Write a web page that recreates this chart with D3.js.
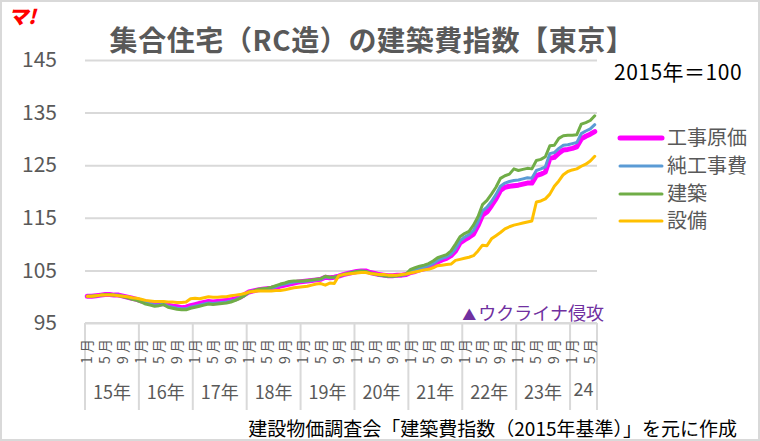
<!DOCTYPE html>
<html>
<head>
<meta charset="utf-8">
<script src="https://cdn.jsdelivr.net/npm/d3@7"></script>
<style>
  body { margin: 0; background: #fff; }
  svg { display: block; }
  text { font-family: "Noto Sans CJK JP", "Noto Sans", sans-serif; }
</style>
</head>
<body>
<div id="chart"></div>
<script>
// categories
const yearLabels = ["15年", "16年", "17年", "18年", "19年", "20年", "21年", "22年", "23年", "24"];
const monthsInYear = [12, 12, 12, 12, 12, 12, 12, 12, 12, 6];
const monthTickLabels = { 1: "1月", 5: "5月", 9: "9月" };
const yTicks = [95, 105, 115, 125, 135, 145];

const seriesNames = ["工事原価", "純工事費", "建築", "設備"];
const seriesColors = ["#ff00ff", "#5b9bd5", "#70ad47", "#ffc000"];
const seriesWidths = [5, 3, 3, 3];

// monthly index values, Jan 2015 - Jun 2024
const kouji = [
  100.1, 100.1, 100.2, 100.3, 100.4, 100.4, 100.3, 100.3, 100.1, 99.9, 99.7, 99.5,
  99.2, 99.0, 98.8, 98.7, 98.6, 98.7, 98.4, 98.2, 98.1, 97.9, 98.0, 98.3,
  98.5, 98.7, 98.9, 99.1, 99.0, 99.1, 99.2, 99.3, 99.4, 99.6, 99.9, 100.4,
  100.9, 101.1, 101.3, 101.4, 101.5, 101.6, 101.8, 102.0, 102.2, 102.4, 102.6, 102.8,
  102.9, 103.0, 103.1, 103.2, 103.3, 103.7, 103.6, 103.7, 103.9, 104.2, 104.4, 104.6,
  104.8, 104.9, 104.9, 104.6, 104.4, 104.2, 104.1, 104.0, 104.0, 104.1, 104.1, 104.2,
  104.6, 104.8, 105.1, 105.3, 105.6, 106.0, 106.6, 107.0, 107.3, 107.8, 108.7, 110.2,
  110.8, 111.3, 111.9, 113.5, 115.5, 116.1, 117.3, 118.6, 120.2, 120.8, 121.0, 121.1,
  121.2, 121.4, 121.6, 121.6, 123.0, 123.3, 123.7, 126.3, 126.5, 127.3, 127.9, 128.0,
  128.2, 128.5, 130.0, 130.5, 130.9, 131.4
];
const junKouji = [
  100.1, 100.1, 100.2, 100.3, 100.4, 100.4, 100.3, 100.3, 100.1, 99.9, 99.6, 99.4,
  99.1, 98.8, 98.6, 98.4, 98.4, 98.6, 98.2, 98.0, 97.8, 97.7, 97.7, 98.0,
  98.2, 98.4, 98.6, 98.8, 98.7, 98.8, 98.9, 99.0, 99.2, 99.4, 99.8, 100.2,
  100.9, 101.1, 101.3, 101.4, 101.5, 101.7, 101.9, 102.2, 102.4, 102.6, 102.8, 102.9,
  102.9, 103.0, 103.1, 103.2, 103.3, 103.8, 103.6, 103.7, 103.9, 104.2, 104.4, 104.6,
  104.8, 104.9, 104.8, 104.5, 104.3, 104.1, 104.0, 103.9, 103.9, 104.0, 104.1, 104.2,
  104.8, 105.1, 105.4, 105.6, 105.9, 106.3, 106.9, 107.3, 107.6, 108.1, 109.1, 110.6,
  111.3, 111.8, 112.6, 114.2, 116.3, 117.0, 118.1, 119.4, 121.0, 121.6, 121.9, 122.1,
  122.2, 122.4, 122.6, 122.5, 124.0, 124.3, 124.7, 127.2, 127.4, 128.2, 128.8, 128.9,
  129.1, 129.3, 131.0, 131.5, 131.9, 132.7
];
const kenchiku = [
  100.1, 100.1, 100.2, 100.3, 100.4, 100.4, 100.3, 100.2, 100.0, 99.8, 99.5, 99.3,
  99.0, 98.6, 98.4, 98.2, 98.3, 98.5, 98.0, 97.8, 97.6, 97.5, 97.5, 97.8,
  98.0, 98.2, 98.4, 98.6, 98.5, 98.6, 98.7, 98.8, 99.0, 99.3, 99.7, 100.2,
  100.9, 101.1, 101.4, 101.5, 101.6, 101.8, 102.1, 102.4, 102.6, 102.9, 103.0, 103.0,
  103.0, 103.1, 103.2, 103.3, 103.4, 103.9, 103.7, 103.7, 103.9, 104.2, 104.4, 104.6,
  104.8, 104.9, 104.8, 104.5, 104.3, 104.1, 104.0, 103.9, 103.9, 104.0, 104.1, 104.3,
  105.2, 105.5, 105.8, 106.0, 106.3, 106.8, 107.4, 107.7, 108.0, 108.7, 110.0, 111.4,
  112.0, 112.4, 113.6, 115.2, 117.5, 118.3, 119.5, 120.8, 122.5, 123.0, 123.3, 124.3,
  124.0, 124.2, 124.4, 124.3, 125.9, 126.1, 126.6, 128.7, 128.8, 130.1, 130.6, 130.7,
  130.7, 130.8, 132.8, 133.1, 133.5, 134.4
];
const setsubi = [
  100.1, 100.1, 100.2, 100.3, 100.3, 100.3, 100.3, 100.2, 100.1, 100.0, 99.8, 99.7,
  99.5, 99.3, 99.2, 99.1, 99.1, 99.1, 99.0, 99.0, 98.9, 98.9, 99.0, 99.6,
  99.7, 99.6, 99.8, 100.0, 99.9, 99.9, 100.0, 100.0, 100.2, 100.3, 100.4, 100.6,
  100.9, 101.0, 101.1, 101.1, 101.1, 101.1, 101.2, 101.2, 101.3, 101.5, 101.7, 101.8,
  101.9, 102.0, 102.2, 102.4, 102.5, 102.2, 102.6, 102.5, 104.0, 104.2, 104.3, 104.4,
  104.5, 104.6, 104.6, 104.4, 104.3, 104.2, 104.2, 104.1, 104.1, 104.1, 104.2, 104.3,
  104.5, 104.7, 104.9, 105.1, 105.2, 105.5, 105.9, 106.0, 106.1, 106.2, 106.9, 107.1,
  107.3, 107.5, 107.8, 108.7, 109.8, 109.7, 111.0, 111.6, 112.2, 112.9, 113.3, 113.6,
  113.8, 114.0, 114.2, 114.4, 118.0, 118.2, 118.6, 119.5, 121.0, 122.0, 123.2, 123.8,
  124.1, 124.3, 124.8, 125.2, 125.8, 126.7
];
const seriesValues = [kouji, junKouji, kenchiku, setsubi];

const width = 760, height = 441;
const plot = { left: 85, right: 597, top: 60, bottom: 323 };
const textGray = "#595959";
const gridGray = "#d9d9d9";

// month categories
const months = [];
yearLabels.forEach((yl, yi) => {
  for (let m = 1; m <= monthsInYear[yi]; m++) months.push({ year: yi, month: m });
});
const idx = d3.range(months.length);

const x = d3.scaleBand().domain(idx).range([plot.left, plot.right]).padding(0);
const y = d3.scaleLinear().domain([95, 145]).range([plot.bottom, plot.top]);
const bw = x.bandwidth();

const svg = d3.select("#chart").append("svg")
  .attr("width", width)
  .attr("height", height)
  .attr("viewBox", [0, 0, width, height]);

svg.append("rect")
  .attr("x", 1).attr("y", 1)
  .attr("width", width - 2).attr("height", height - 2)
  .attr("fill", "#fff")
  .attr("stroke", gridGray)
  .attr("stroke-width", 2);

// logo
svg.append("text")
  .attr("x", 8).attr("y", 24)
  .attr("fill", "#ff0000")
  .style("font-size", "20px")
  .style("font-weight", 900)
  .style("font-style", "italic")
  .text("マ!");

// title
svg.append("text")
  .attr("x", 372).attr("y", 51)
  .attr("text-anchor", "middle")
  .attr("fill", textGray)
  .style("font-size", "28px")
  .style("font-weight", "bold")
  .style("letter-spacing", "0.6px")
  .text("集合住宅（RC造）の建築費指数【東京】");

svg.append("text")
  .attr("x", 614).attr("y", 80)
  .attr("fill", "#000")
  .style("font-size", "21px")
  .style("letter-spacing", "0.5px")
  .text("2015年＝100");

// y grid + labels
const yAxis = g => g
  .attr("transform", `translate(${plot.left},0)`)
  .call(d3.axisLeft(y).tickValues(yTicks).tickSize(-(plot.right - plot.left)).tickPadding(28))
  .call(g => g.select(".domain").remove())
  .call(g => g.selectAll(".tick line").attr("stroke", gridGray).attr("stroke-width", 2))
  .call(g => g.selectAll(".tick text")
    .attr("fill", textGray)
    .style("font-size", "21px")
    .style("font-family", "\"Noto Sans CJK JP\", sans-serif"));
svg.append("g").call(yAxis);

// category axis: year separators, month ticks, year labels
const yearStarts = [];
months.forEach((m, i) => { if (m.month === 1) yearStarts.push(i); });

const xg = svg.append("g");
xg.selectAll("line.sep")
  .data(yearStarts.map(i => x(i)).concat([plot.right]))
  .join("line")
  .attr("class", "sep")
  .attr("x1", d => d).attr("x2", d => d)
  .attr("y1", plot.bottom).attr("y2", 410)
  .attr("stroke", gridGray)
  .attr("stroke-width", 2);

xg.selectAll("text.month")
  .data(idx.filter(i => monthTickLabels[months[i].month]))
  .join("text")
  .attr("class", "month")
  .attr("transform", i => `translate(${x(i) + bw / 2 + 5},350) rotate(-90)`)
  .attr("text-anchor", "middle")
  .attr("fill", textGray)
  .style("font-size", "14px")
  .style("letter-spacing", "3px")
  .text(i => monthTickLabels[months[i].month]);

xg.selectAll("text.year")
  .data(yearLabels)
  .join("text")
  .attr("class", "year")
  .attr("x", (d, yi) => {
    const s = yearStarts[yi];
    return x(s) + bw * monthsInYear[yi] / 2;
  })
  .attr("y", (d, yi) => yi === yearLabels.length - 1 ? 396 : 399)
  .attr("text-anchor", "middle")
  .attr("fill", textGray)
  .style("font-size", "18px")
  .text(d => d);

svg.append("line")
  .attr("x1", plot.left).attr("x2", plot.right)
  .attr("y1", plot.bottom).attr("y2", plot.bottom)
  .attr("stroke", gridGray)
  .attr("stroke-width", 2);

// lines
const line = d3.line()
  .x((d, i) => x(i) + bw / 2)
  .y(d => y(d));

svg.append("g")
  .selectAll("path")
  .data(seriesValues)
  .join("path")
  .attr("fill", "none")
  .attr("stroke", (d, i) => seriesColors[i])
  .attr("stroke-width", (d, i) => seriesWidths[i])
  .attr("stroke-linejoin", "round")
  .attr("stroke-linecap", "round")
  .attr("d", line);

// legend
const legendY = [138, 166, 194, 221];
const lg = svg.append("g")
  .selectAll("g")
  .data(seriesNames)
  .join("g")
  .attr("transform", (d, i) => `translate(620,${legendY[i]})`);
lg.append("line")
  .attr("x1", 0).attr("x2", 42)
  .attr("stroke", (d, i) => seriesColors[i])
  .attr("stroke-width", (d, i) => seriesWidths[i])
  .attr("stroke-linecap", "round");
lg.append("text")
  .attr("x", 47).attr("y", 7)
  .attr("fill", textGray)
  .style("font-size", "20px")
  .text(d => d);

// annotation: invasion of Ukraine, drawn at the 2022 band start
const invasionIndex = yearStarts[7];
const ann = svg.append("text")
  .attr("x", x(invasionIndex))
  .attr("y", 320)
  .attr("fill", "#7030a0");
ann.append("tspan").style("font-size", "14px").text("▲");
ann.append("tspan").attr("dx", 2).style("font-size", "18px").text("ウクライナ侵攻");

// source
svg.append("text")
  .attr("x", 737).attr("y", 436)
  .attr("text-anchor", "end")
  .attr("fill", "#000")
  .style("font-size", "19px")
  .text("建設物価調査会「建築費指数（2015年基準）」を元に作成");
</script>
</body>
</html>
